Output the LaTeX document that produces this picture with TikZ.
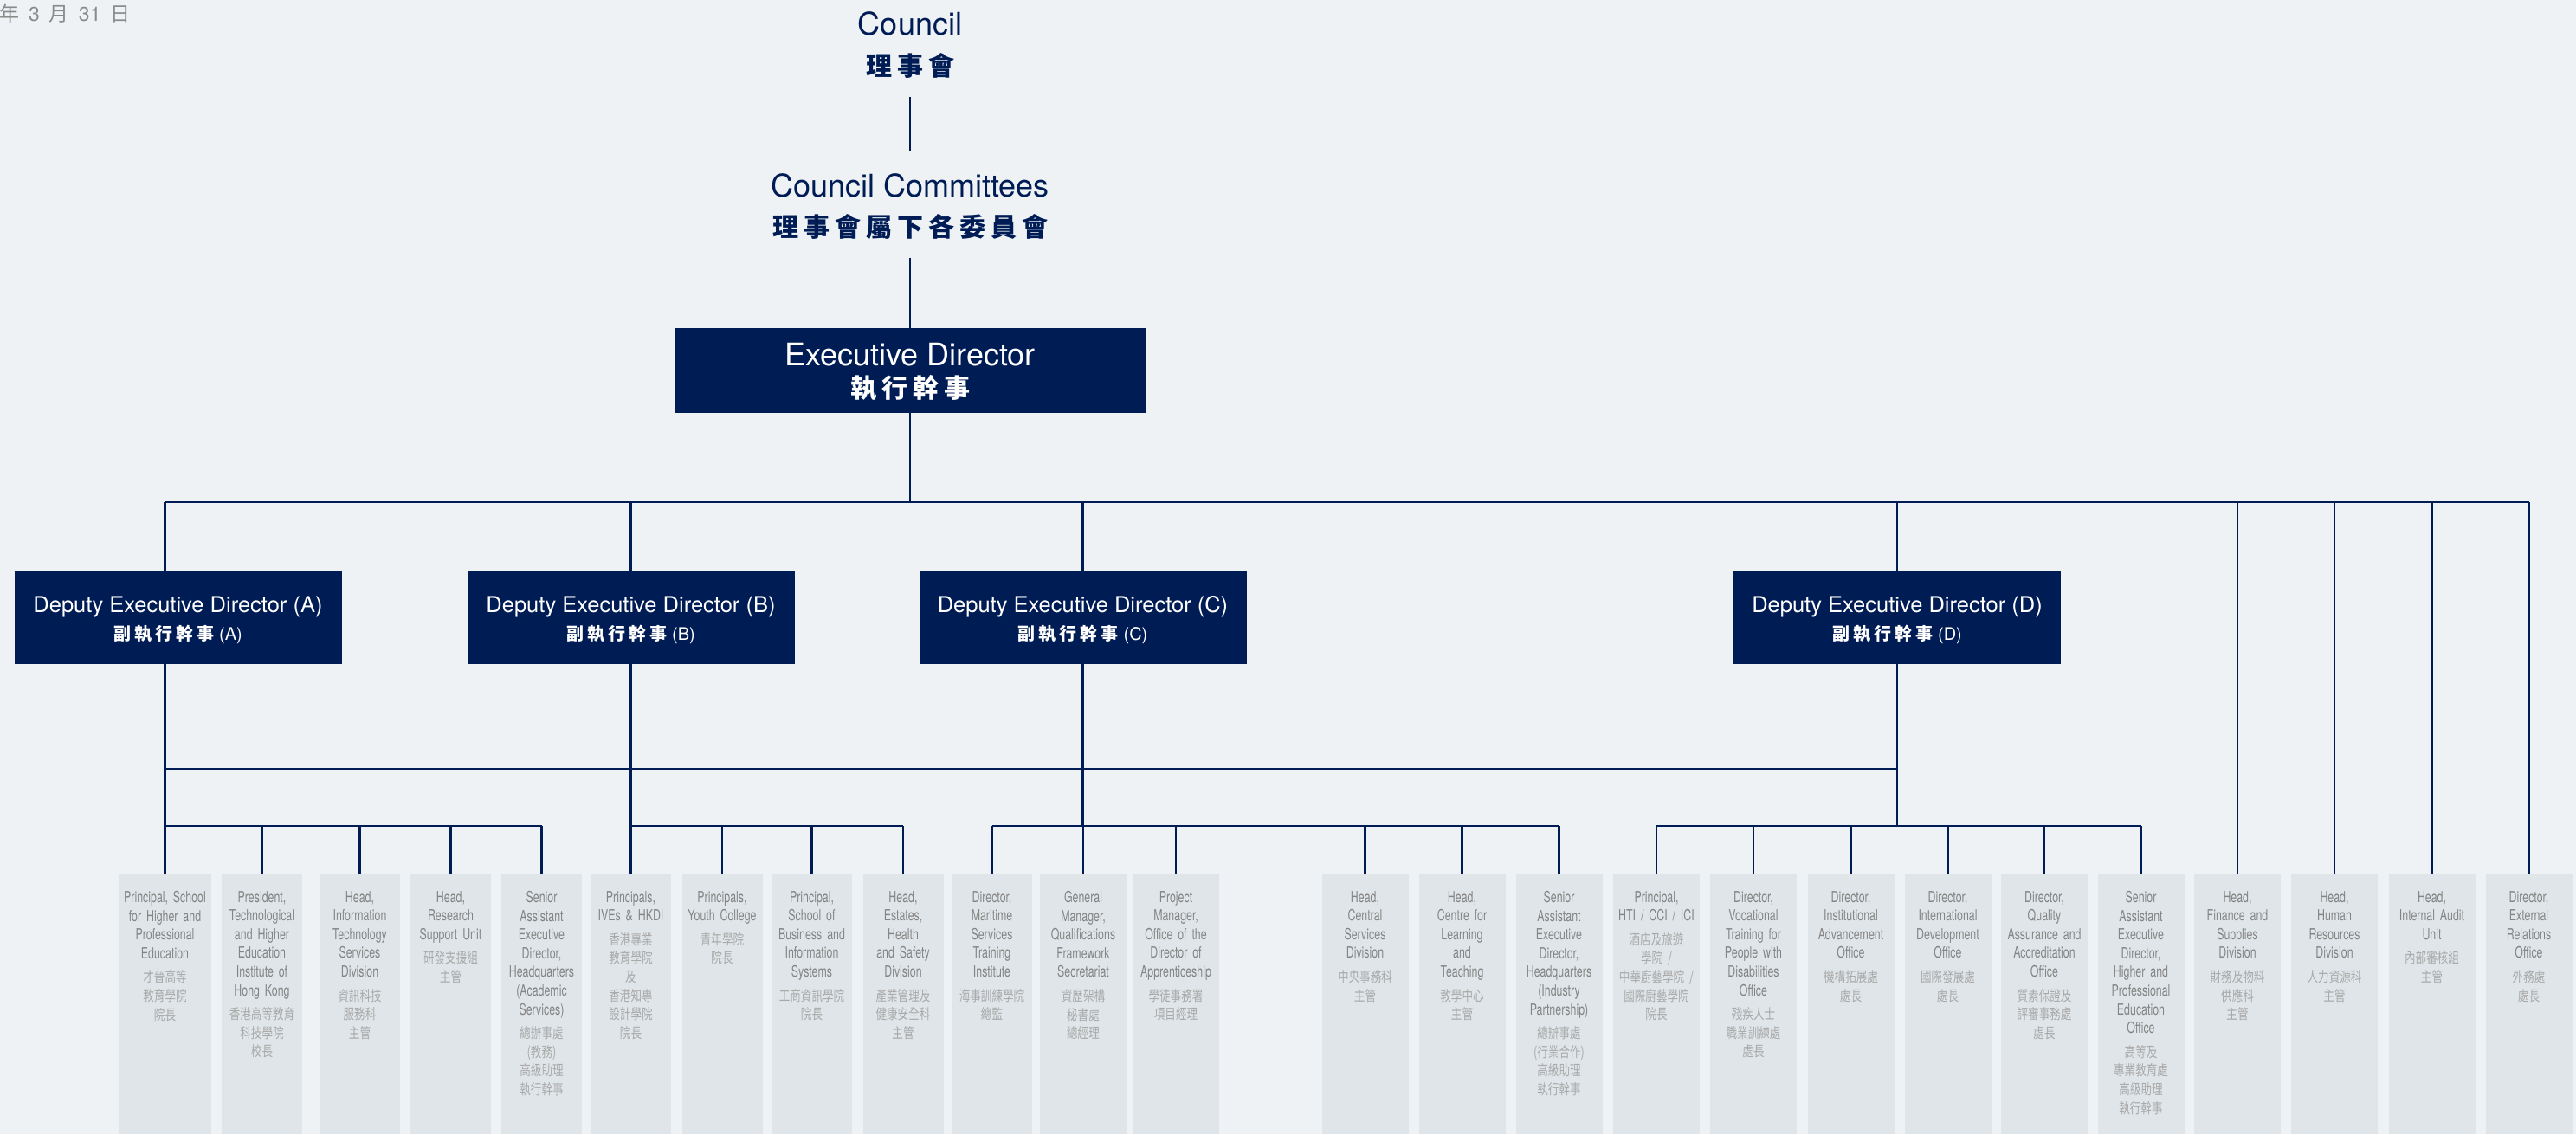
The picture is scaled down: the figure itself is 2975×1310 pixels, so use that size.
\documentclass[tikz,border=0pt]{standalone}
\usepackage{fontspec}
\setmainfont{TeX Gyre Heros}
\newfontfamily\unitfont[FakeStretch=0.70]{TeX Gyre Heros}
\newfontfamily\cjkfont{Noto Sans CJK TC}
\newfontfamily\cjkunitfont[FakeStretch=0.76]{Noto Sans CJK TC}
\newfontfamily\cjkheadfont[LetterSpace=20]{Noto Sans CJK TC}
\usetikzlibrary{positioning}
\definecolor{orgnavy}{HTML}{001C55}
\definecolor{orgbackground}{HTML}{EEF2F5}
\definecolor{unitfill}{HTML}{DFE5E9}
\definecolor{unitenglish}{HTML}{848484}
\definecolor{unitchinese}{HTML}{A9A9A9}
\definecolor{asoftext}{HTML}{8A8A8A}
\newcommand{\unitzh}[1]{\\[6pt]{\cjkunitfont\fontsize{16.5}{21.6}\selectfont\color{unitchinese}#1}}

\begin{document}
\begin{tikzpicture}[
        x=1pt, y=-1pt,
        orgline/.style={draw=orgnavy, line width=2.2pt},
        headen/.style={text=orgnavy, font=\fontsize{36}{42}\selectfont, inner sep=0pt, anchor=base},
        headzh/.style={text=orgnavy, font=\cjkheadfont\bfseries\fontsize{30}{36}\selectfont, inner sep=0pt},
        execbox/.style={fill=orgnavy, minimum width=544pt, minimum height=98pt, inner sep=0pt},
        dedbox/.style={fill=orgnavy, minimum width=378pt, minimum height=108pt, inner sep=0pt},
        deden/.style={text=white, font=\fontsize{25.5}{30}\selectfont, inner sep=0pt, anchor=base},
        dedzh/.style={text=white, font=\fontsize{20}{24}\selectfont, inner sep=0pt},
        unitbox/.style={fill=unitfill, minimum width=100pt, minimum height=300pt, inner sep=0pt, anchor=north},
        unittext/.style={text width=98pt, align=center, inner sep=0pt, text=unitenglish,
            font=\unitfont\fontsize{17.7}{21.6}\selectfont}
    ]
        \useasboundingbox (0,0) rectangle (2975,1310);
        \fill[orgbackground] (0,0) rectangle (2975,1310);

        \node[anchor=base west, inner sep=0pt, text=asoftext, font=\fontsize{23}{27}\selectfont]
            (asof) at (-1,24) {{\cjkfont 年}\hspace{11pt}3\hspace{11pt}{\cjkfont 月}\hspace{11pt}31\hspace{11pt}{\cjkfont 日}};

        % top of the chart
        \node[headen] (council) at (1051,40) {Council};
        \node[headzh] (councilzh) at (1051,76) {理事會};
        \node[headen] (committee) at (1051,227) {Council Committees};
        \node[headzh] (committeezh) at (1051,262) {理事會屬下各委員會};

        \node[execbox] (exec) at (1051,428) {};
        \node[headen, text=white] (execen) at ([yshift=6pt]exec.center) {Executive Director};
        \node[headzh, text=white] (execzh) at ([yshift=-20pt]exec.center) {執行幹事};

        % deputies
        \node[dedbox] (dedA) at (205.5,713) {};
        \node[dedbox] (dedB) at (728.5,713) {};
        \node[dedbox] (dedC) at (1250.5,713) {};
        \node[dedbox] (dedD) at (2191,713) {};
        \node[deden] (dedAen) at ([yshift=6pt]dedA.center) {Deputy Executive Director (A)};
        \node[dedzh] (dedAzh) at ([yshift=-20pt]dedA.center) {{\cjkheadfont\bfseries 副執行幹事}\hspace{6pt}(A)};
        \node[deden] (dedBen) at ([yshift=6pt]dedB.center) {Deputy Executive Director (B)};
        \node[dedzh] (dedBzh) at ([yshift=-20pt]dedB.center) {{\cjkheadfont\bfseries 副執行幹事}\hspace{6pt}(B)};
        \node[deden] (dedCen) at ([yshift=6pt]dedC.center) {Deputy Executive Director (C)};
        \node[dedzh] (dedCzh) at ([yshift=-20pt]dedC.center) {{\cjkheadfont\bfseries 副執行幹事}\hspace{6pt}(C)};
        \node[deden] (dedDen) at ([yshift=6pt]dedD.center) {Deputy Executive Director (D)};
        \node[dedzh] (dedDzh) at ([yshift=-20pt]dedD.center) {{\cjkheadfont\bfseries 副執行幹事}\hspace{6pt}(D)};

        % units
        \node[unitbox, minimum width=107pt] (b1) at (190.5,1010) {};
        \node[unittext, text width=105pt, below=19pt of b1.north] (t1)
            {Principal, School\\for Higher and\\Professional\\Education\unitzh{才晉高等\\教育學院\\院長}};
        \node[unitbox, minimum width=93pt] (b2) at (302.5,1010) {};
        \node[unittext, text width=92pt, below=19pt of b2.north] (t2)
            {President,\\Technological\\and Higher\\Education\\Institute of\\Hong Kong\unitzh{香港高等教育\\科技學院\\校長}};
        \node[unitbox, minimum width=93pt] (b3) at (415.5,1010) {};
        \node[unittext, text width=92pt, below=19pt of b3.north] (t3)
            {Head,\\Information\\Technology\\Services\\Division\unitzh{資訊科技\\服務科\\主管}};
        \node[unitbox, minimum width=93pt] (b4) at (520.5,1010) {};
        \node[unittext, text width=92pt, below=19pt of b4.north] (t4)
            {Head,\\Research\\Support Unit\unitzh{研發支援組\\主管}};
        \node[unitbox, minimum width=93pt] (b5) at (625.5,1010) {};
        \node[unittext, text width=92pt, below=19pt of b5.north] (t5)
            {Senior\\Assistant\\Executive\\Director,\\Headquarters\\(Academic\\Services)\unitzh{總辦事處\\(教務)\\高級助理\\執行幹事}};
        \node[unitbox, minimum width=93pt] (b6) at (728.5,1010) {};
        \node[unittext, text width=92pt, below=19pt of b6.north] (t6)
            {Principals,\\IVEs \& HKDI\unitzh{香港專業\\教育學院\\及\\香港知專\\設計學院\\院長}};
        \node[unitbox, minimum width=93pt] (b7) at (834,1010) {};
        \node[unittext, text width=92pt, below=19pt of b7.north] (t7)
            {Principals,\\Youth College\unitzh{青年學院\\院長}};
        \node[unitbox, minimum width=93pt] (b8) at (937.5,1010) {};
        \node[unittext, text width=92pt, below=19pt of b8.north] (t8)
            {Principal,\\School of\\Business and\\Information\\Systems\unitzh{工商資訊學院\\院長}};
        \node[unitbox, minimum width=93pt] (b9) at (1043,1010) {};
        \node[unittext, text width=92pt, below=19pt of b9.north] (t9)
            {Head,\\Estates,\\Health\\and Safety\\Division\unitzh{產業管理及\\健康安全科\\主管}};
        \node[unitbox, minimum width=93pt] (b10) at (1145.5,1010) {};
        \node[unittext, text width=92pt, below=19pt of b10.north] (t10)
            {Director,\\Maritime\\Services\\Training\\Institute\unitzh{海事訓練學院\\總監}};
        \node[unitbox] (b11) at (1251,1010) {};
        \node[unittext, below=19pt of b11.north] (t11)
            {General\\Manager,\\Qualifications\\Framework\\Secretariat\unitzh{資歷架構\\秘書處\\總經理}};
        \node[unitbox] (b12) at (1358,1010) {};
        \node[unittext, below=19pt of b12.north] (t12)
            {Project\\Manager,\\Office of the\\Director of\\Apprenticeship\unitzh{學徒事務署\\項目經理}};
        \node[unitbox] (b13) at (1576.5,1010) {};
        \node[unittext, below=19pt of b13.north] (t13)
            {Head,\\Central\\Services\\Division\unitzh{中央事務科\\主管}};
        \node[unitbox] (b14) at (1688.5,1010) {};
        \node[unittext, below=19pt of b14.north] (t14)
            {Head,\\Centre for\\Learning\\and\\Teaching\unitzh{教學中心\\主管}};
        \node[unitbox] (b15) at (1800.5,1010) {};
        \node[unittext, below=19pt of b15.north] (t15)
            {Senior\\Assistant\\Executive\\Director,\\Headquarters\\(Industry\\Partnership)\unitzh{總辦事處\\(行業合作)\\高級助理\\執行幹事}};
        \node[unitbox] (b16) at (1913,1010) {};
        \node[unittext, below=19pt of b16.north] (t16)
            {Principal,\\HTI / CCI / ICI\unitzh{酒店及旅遊\\學院 /\\中華廚藝學院 /\\國際廚藝學院\\院長}};
        \node[unitbox] (b17) at (2025,1010) {};
        \node[unittext, below=19pt of b17.north] (t17)
            {Director,\\Vocational\\Training for\\People with\\Disabilities\\Office\unitzh{殘疾人士\\職業訓練處\\處長}};
        \node[unitbox] (b18) at (2137.5,1010) {};
        \node[unittext, below=19pt of b18.north] (t18)
            {Director,\\Institutional\\Advancement\\Office\unitzh{機構拓展處\\處長}};
        \node[unitbox] (b19) at (2249.5,1010) {};
        \node[unittext, below=19pt of b19.north] (t19)
            {Director,\\International\\Development\\Office\unitzh{國際發展處\\處長}};
        \node[unitbox] (b20) at (2361,1010) {};
        \node[unittext, below=19pt of b20.north] (t20)
            {Director,\\Quality\\Assurance and\\Accreditation\\Office\unitzh{質素保證及\\評審事務處\\處長}};
        \node[unitbox] (b21) at (2472.5,1010) {};
        \node[unittext, below=19pt of b21.north] (t21)
            {Senior\\Assistant\\Executive\\Director,\\Higher and\\Professional\\Education\\Office\unitzh{高等及\\專業教育處\\高級助理\\執行幹事}};
        \node[unitbox] (b22) at (2584,1010) {};
        \node[unittext, below=19pt of b22.north] (t22)
            {Head,\\Finance and\\Supplies\\Division\unitzh{財務及物料\\供應科\\主管}};
        \node[unitbox] (b23) at (2696,1010) {};
        \node[unittext, below=19pt of b23.north] (t23)
            {Head,\\Human\\Resources\\Division\unitzh{人力資源科\\主管}};
        \node[unitbox] (b24) at (2808.5,1010) {};
        \node[unittext, below=19pt of b24.north] (t24)
            {Head,\\Internal Audit\\Unit\unitzh{內部審核組\\主管}};
        \node[unitbox] (b25) at (2920.5,1010) {};
        \node[unittext, below=19pt of b25.north] (t25)
            {Director,\\External\\Relations\\Office\unitzh{外務處\\處長}};

        % bus levels
        \coordinate (topbus) at (0,580);
        \coordinate (midbus) at (0,888);
        \coordinate (subbus) at (0,954);

        % connectors
        \draw[orgline] ([yshift=-21pt]councilzh.south) -- ([yshift=26pt]committee.north);
        \draw[orgline] ([yshift=-21pt]committeezh.south) -- (exec.north);
        \draw[orgline] (exec.south) -- (exec.south |- topbus);
        \draw[orgline] (b1.north |- topbus) -- (b25.north |- topbus);
        \draw[orgline]
            (b1.north |- topbus) -- (b1.north |- dedA.north)
            (dedB.north |- topbus) -- (dedB.north)
            (dedC.north |- topbus) -- (dedC.north)
            (dedD.north |- topbus) -- (dedD.north);
        \draw[orgline]
            (b22.north |- topbus) -- (b22.north)
            (b23.north |- topbus) -- (b23.north)
            (b24.north |- topbus) -- (b24.north)
            (b25.north |- topbus) -- (b25.north);
        \draw[orgline]
            (b1.north |- dedA.south) -- (b1.north |- subbus)
            (dedB.south) -- (dedB.south |- subbus)
            (dedC.south) -- (dedC.south |- subbus)
            (dedD.south) -- (dedD.south |- subbus);
        \draw[orgline] (b1.north |- midbus) -- (dedD.south |- midbus);
        \draw[orgline]
            (b1.north |- subbus) -- (b5.north |- subbus)
            (b6.north |- subbus) -- (b9.north |- subbus)
            (b10.north |- subbus) -- (b15.north |- subbus)
            (b16.north |- subbus) -- (b21.north |- subbus);
        \draw[orgline]
            (b1.north |- subbus) -- (b1.north)
            (b2.north |- subbus) -- (b2.north)
            (b3.north |- subbus) -- (b3.north)
            (b4.north |- subbus) -- (b4.north)
            (b5.north |- subbus) -- (b5.north)
            (b6.north |- subbus) -- (b6.north)
            (b7.north |- subbus) -- (b7.north)
            (b8.north |- subbus) -- (b8.north)
            (b9.north |- subbus) -- (b9.north)
            (b10.north |- subbus) -- (b10.north)
            (b11.north |- subbus) -- (b11.north)
            (b12.north |- subbus) -- (b12.north)
            (b13.north |- subbus) -- (b13.north)
            (b14.north |- subbus) -- (b14.north)
            (b15.north |- subbus) -- (b15.north)
            (b16.north |- subbus) -- (b16.north)
            (b17.north |- subbus) -- (b17.north)
            (b18.north |- subbus) -- (b18.north)
            (b19.north |- subbus) -- (b19.north)
            (b20.north |- subbus) -- (b20.north)
            (b21.north |- subbus) -- (b21.north);
    \end{tikzpicture}
\end{document}
